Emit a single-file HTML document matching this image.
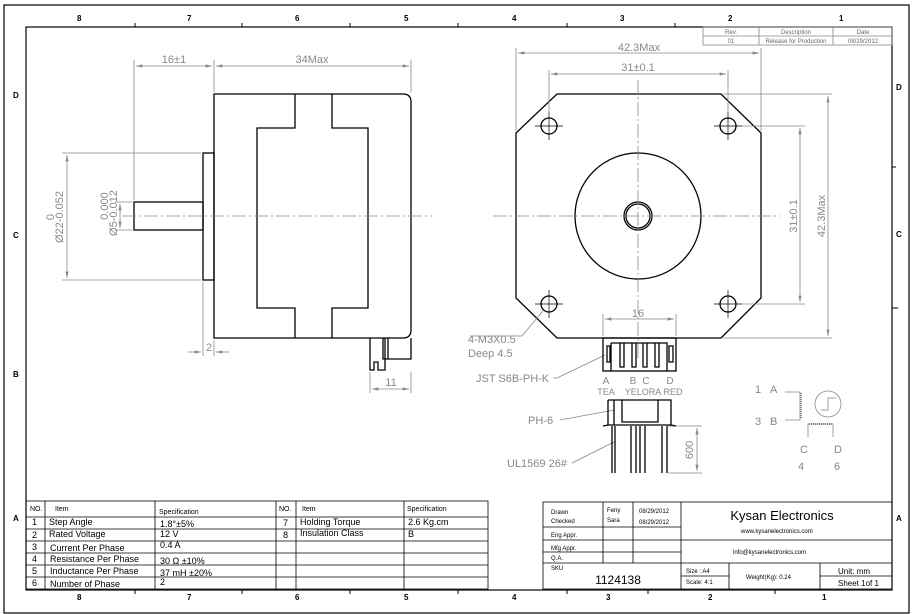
<!DOCTYPE html>
<html><head><meta charset="utf-8"><style>
html,body{margin:0;padding:0;background:#fff}
svg{display:block}
text{font-family:"Liberation Sans",sans-serif}
.k{stroke:#000;fill:none;stroke-width:1.3}
.g{stroke:#888;fill:none;stroke-width:0.8}
.c{stroke:#888;fill:none;stroke-width:0.8;stroke-dasharray:14 3 2 3}
.gt{fill:#888;font-size:11px}
.t{fill:#000;font-size:9px}
.s{fill:#000;font-size:7px}
</style></head><body>
<svg width="916" height="614" viewBox="0 0 916 614" xmlns="http://www.w3.org/2000/svg">
<defs><marker id="a" markerWidth="8" markerHeight="6" refX="8" refY="3" orient="auto-start-reverse"><path d="M0,1 L8,3 L0,5" fill="#888"/></marker></defs>
<rect x="4" y="5" width="905" height="608" fill="none" stroke="#000" stroke-width="1.2"/>
<rect x="26" y="27" width="866" height="563" fill="none" stroke="#000" stroke-width="1.2"/>
<g font-size="8" font-weight="bold" fill="#000">
<text x="77" y="21">8</text><text x="187" y="21">7</text><text x="295" y="21">6</text><text x="404" y="21">5</text><text x="512" y="21">4</text><text x="620" y="21">3</text><text x="728" y="21">2</text><text x="839" y="21">1</text>
<text x="77" y="600">8</text><text x="187" y="600">7</text><text x="295" y="600">6</text><text x="404" y="600">5</text><text x="512" y="600">4</text><text x="606" y="600">3</text><text x="708" y="600">2</text><text x="822" y="600">1</text>
<text x="13" y="98">D</text><text x="13" y="238">C</text><text x="13" y="377">B</text><text x="13" y="521">A</text>
<text x="896" y="90">D</text><text x="896" y="237">C</text><text x="896" y="521">A</text>
</g>
<g stroke="#000" stroke-width="1">
<line x1="135" y1="23" x2="135" y2="27"/><line x1="242" y1="23" x2="242" y2="27"/><line x1="350" y1="23" x2="350" y2="27"/><line x1="458" y1="23" x2="458" y2="27"/><line x1="567" y1="23" x2="567" y2="27"/><line x1="675" y1="23" x2="675" y2="27"/>
<line x1="135" y1="590" x2="135" y2="594"/><line x1="242" y1="590" x2="242" y2="594"/><line x1="350" y1="590" x2="350" y2="594"/><line x1="458" y1="590" x2="458" y2="594"/><line x1="567" y1="590" x2="567" y2="594"/><line x1="648" y1="590" x2="648" y2="594"/><line x1="775" y1="590" x2="775" y2="594"/>
<line x1="892" y1="167" x2="896" y2="167"/><line x1="892" y1="308" x2="898" y2="308"/>
</g>
<g stroke="#888" stroke-width="0.8" fill="none"><rect x="703" y="27" width="189" height="18"/><line x1="703" y1="36" x2="892" y2="36"/><line x1="759" y1="27" x2="759" y2="45"/><line x1="833" y1="27" x2="833" y2="45"/></g>
<g font-size="6" fill="#666" text-anchor="middle"><text x="731" y="34">Rev.</text><text x="796" y="34">Description</text><text x="863" y="34">Date</text><text x="731" y="43">01</text><text x="796" y="43">Release for Production</text><text x="863" y="43">08/29/2012</text></g>

<path class="k" d="M214,94 H403 Q411,94 411,102 V330 Q411,338 403,338 H214 Z"/>
<path class="k" d="M295,94 V128 H257 V308 H295 V338 M332,94 V128 H368 V308 H332 V338"/>
<rect class="k" x="203" y="153" width="11" height="127"/>
<rect class="k" x="134" y="202" width="69" height="28"/>
<path class="k" d="M370,338 V370 H374 V362 H378 V370 H385 V338 M383,338 V359 H388 M388,338 V359 H411 V338"/>
<line class="c" x1="122" y1="216" x2="432" y2="216"/>
<g class="g">
<line x1="134" y1="200" x2="134" y2="60"/><line x1="214" y1="92" x2="214" y2="60"/><line x1="411" y1="92" x2="411" y2="60"/>
<line x1="136" y1="66" x2="212" y2="66" marker-start="url(#a)" marker-end="url(#a)"/>
<line x1="216" y1="66" x2="409" y2="66" marker-start="url(#a)" marker-end="url(#a)"/>
<line x1="62" y1="153" x2="201" y2="153"/><line x1="62" y1="280" x2="201" y2="280"/>
<line x1="67" y1="155" x2="67" y2="278" marker-start="url(#a)" marker-end="url(#a)"/>
<line x1="115" y1="202" x2="132" y2="202"/><line x1="115" y1="230" x2="132" y2="230"/>
<line x1="120" y1="204" x2="120" y2="228" marker-start="url(#a)" marker-end="url(#a)"/>
<line x1="203" y1="282" x2="203" y2="356"/><line x1="214" y1="340" x2="214" y2="356"/>
<line x1="188" y1="352" x2="201" y2="352" marker-end="url(#a)"/><line x1="229" y1="352" x2="216" y2="352" marker-end="url(#a)"/>
<line x1="370" y1="372" x2="370" y2="393"/><line x1="411" y1="372" x2="411" y2="393"/>
<line x1="372" y1="389" x2="409" y2="389" marker-start="url(#a)" marker-end="url(#a)"/>
</g>
<text class="gt" x="174" y="63" text-anchor="middle">16±1</text>
<text class="gt" x="312" y="63" text-anchor="middle">34Max</text>
<text class="gt" x="209" y="351" text-anchor="middle">2</text>
<text class="gt" x="391" y="386" text-anchor="middle">11</text>
<text class="gt" transform="translate(63,217) rotate(-90)" text-anchor="middle">Ø22-0.052</text>
<text class="gt" transform="translate(54,217) rotate(-90)" text-anchor="middle">0</text>
<text class="gt" transform="translate(117,213) rotate(-90)" text-anchor="middle">Ø5-0.012</text>
<text class="gt" transform="translate(108,206) rotate(-90)" text-anchor="middle">0.000</text>

<path class="k" d="M557,94 H721 L761,133 V298 L721,338 H557 L516,298 V133 Z"/>
<circle class="k" cx="638" cy="216" r="63" stroke-width="1"/>
<circle class="k" cx="638" cy="216" r="14"/><circle class="k" cx="638" cy="216" r="12" stroke-width="0.8"/>
<g class="k"><circle cx="549" cy="126" r="8"/><circle cx="728" cy="126" r="8"/><circle cx="549" cy="304" r="8"/><circle cx="728" cy="304" r="8"/></g>
<g stroke="#000" stroke-width="0.7"><path d="M535,126H563M549,112V140M714,126H742M728,112V140M535,304H563M549,290V318M714,304H742M728,290V318"/></g>
<line class="c" x1="493" y1="216" x2="780" y2="216"/>
<line class="c" x1="638" y1="80" x2="638" y2="360"/>
<g class="g">
<line x1="516" y1="131" x2="516" y2="48"/><line x1="761" y1="131" x2="761" y2="48"/>
<line x1="518" y1="53" x2="759" y2="53" marker-start="url(#a)" marker-end="url(#a)"/>
<line x1="549" y1="112" x2="549" y2="70"/><line x1="728" y1="112" x2="728" y2="70"/>
<line x1="551" y1="74" x2="726" y2="74" marker-start="url(#a)" marker-end="url(#a)"/>
<line x1="723" y1="94" x2="832" y2="94"/><line x1="723" y1="338" x2="832" y2="338"/>
<line x1="828" y1="96" x2="828" y2="336" marker-start="url(#a)" marker-end="url(#a)"/>
<line x1="742" y1="126" x2="805" y2="126"/><line x1="742" y1="304" x2="805" y2="304"/>
<line x1="800" y1="128" x2="800" y2="302" marker-start="url(#a)" marker-end="url(#a)"/>
<line x1="603" y1="336" x2="603" y2="314"/><line x1="676" y1="336" x2="676" y2="314"/>
<line x1="605" y1="319" x2="674" y2="319" marker-start="url(#a)" marker-end="url(#a)"/>
<path d="M543,311 L522,336 H470"/>
<path d="M605,355 L557,378 H553"/>
<path d="M614,410 L560,420"/>
<path d="M614,442 L572,463"/>
<line x1="668" y1="426" x2="702" y2="426"/><line x1="668" y1="473" x2="702" y2="473"/>
<line x1="697" y1="428" x2="697" y2="471" marker-start="url(#a)" marker-end="url(#a)"/>
</g>
<text class="gt" x="639" y="51" text-anchor="middle">42.3Max</text>
<text class="gt" x="638" y="71" text-anchor="middle">31±0.1</text>
<text class="gt" transform="translate(825,216) rotate(-90)" text-anchor="middle">42.3Max</text>
<text class="gt" transform="translate(797,216) rotate(-90)" text-anchor="middle">31±0.1</text>
<text class="gt" x="638" y="317" text-anchor="middle">16</text>
<text class="gt" x="468" y="343">4-M3X0.5</text>
<text class="gt" x="468" y="357">Deep 4.5</text>
<text class="gt" x="476" y="382">JST S6B-PH-K</text>
<text class="gt" x="528" y="424">PH-6</text>
<text class="gt" x="507" y="467">UL1569 26#</text>
<text class="gt" transform="translate(693,450) rotate(-90)" text-anchor="middle">600</text>
<rect class="k" x="603" y="338" width="73" height="33"/>
<path class="k" stroke-width="1" d="M610,356 V346 H607 V362 H610 Z M611,343 V371 M611,343 H667 V371 M620,343 V367 H624 V343 M632,343 V367 H636 V343 M643,343 V367 H647 V343 M655,343 V367 H659 V343 M669,346 V362 H673 V346 Z"/>
<g fill="#888" font-size="10" text-anchor="middle"><text x="606" y="384">A</text><text x="633" y="384">B</text><text x="646" y="384">C</text><text x="670" y="384">D</text></g>
<g fill="#888" font-size="9" text-anchor="middle"><text x="606" y="395">TEA</text><text x="643" y="395">YELORA</text><text x="673" y="395">RED</text></g>
<path class="k" stroke-width="1" d="M608,400 V425 M614,400 V425 M608,400 H671 V425 M622,400 V422 H658 V400 M603,426 L608,425 H671 L676,426 M612,426 V473 M615,426 V473 M631,426 V473 M636,426 V473 M640,426 V473 M645,426 V473 M662,426 V473 M667,426 V473"/>
<g fill="#888" font-size="11"><text x="755" y="393">1</text><text x="770" y="393">A</text><text x="755" y="425">3</text><text x="770" y="425">B</text><text x="800" y="453">C</text><text x="834" y="453">D</text><text x="798" y="470">4</text><text x="834" y="470">6</text></g>
<g class="g" stroke-width="0.9"><path d="M785,392 H800 V420 H785 M808,437 V424 H833 V437"/><circle cx="828" cy="404" r="13"/><path d="M821,410 H828 V398 H836"/></g>
<path d="M801,393 V419 M809,424 H832" stroke="#888" stroke-width="2" stroke-dasharray="1 1"/>

<g stroke="#000" stroke-width="0.8" fill="none">
<rect x="26" y="501" width="462" height="88"/>
<path d="M26,517H488M26,529H488M26,541H488M26,553H488M26,565H488M26,577H488M45,501V589M155,501V589M276,501V589M296,501V589M404,501V589"/>
</g>
<g class="s"><text x="30" y="511">NO.</text><text x="55" y="511">Item</text><text x="159" y="514">Specification</text><text x="279" y="511">NO.</text><text x="302" y="511">Item</text><text x="407" y="511">Specification</text></g>
<g class="t">
<text x="32" y="525">1</text><text x="49" y="525">Step Angle</text><text x="160" y="527">1.8°±5%</text><text x="283" y="526">7</text><text x="300" y="525">Holding Torque</text><text x="408" y="525">2.6 Kg.cm</text>
<text x="32" y="538">2</text><text x="49" y="537">Rated Voltage</text><text x="160" y="537">12 V</text><text x="283" y="538">8</text><text x="300" y="536">Insulation Class</text><text x="408" y="537">B</text>
<text x="32" y="550">3</text><text x="50" y="551">Current Per Phase</text><text x="160" y="548">0.4 A</text>
<text x="32" y="562">4</text><text x="50" y="562">Resistance Per Phase</text><text x="160" y="564">30 Ω  ±10%</text>
<text x="32" y="574">5</text><text x="50" y="574">Inductance Per Phase</text><text x="160" y="576">37 mH ±20%</text>
<text x="32" y="586">6</text><text x="50" y="587">Number of Phase</text><text x="160" y="585">2</text>
</g>
<g stroke="#000" stroke-width="0.8" fill="none">
<rect x="543" y="502" width="349" height="87"/>
<path d="M543,527H681M543,540H892M543,552H681M543,563H892M603,502V563M633,502V563M681,502V589M729,563V589M820,563V589M681,576H729M820,576H892"/>
</g>
<g font-size="6" fill="#000"><text x="551" y="514">Drawn</text><text x="551" y="523">Checked</text><text x="551" y="537">Eng Appr.</text><text x="551" y="550">Mfg Appr.</text><text x="551" y="560">Q.A.</text><text x="551" y="570">SKU</text>
<text x="607" y="512">Feny</text><text x="607" y="522">Sara</text><text x="639" y="513">08/29/2012</text><text x="639" y="524">08/29/2012</text>
<text x="741" y="533">www.kysanelectronics.com</text><text x="733" y="554">info@kysanelectronics.com</text>
<text x="686" y="573">Size : A4</text><text x="686" y="584">Scale: 4:1</text><text x="746" y="579">Weight(Kg):  0.24</text></g>
<text x="782" y="520" text-anchor="middle" font-size="13">Kysan Electronics</text>
<text x="618" y="584" text-anchor="middle" font-size="12">1124138</text>
<text x="838" y="574" font-size="8">Unit: mm</text><text x="838" y="586" font-size="8">Sheet 1of 1</text>
</svg>
</body></html>
